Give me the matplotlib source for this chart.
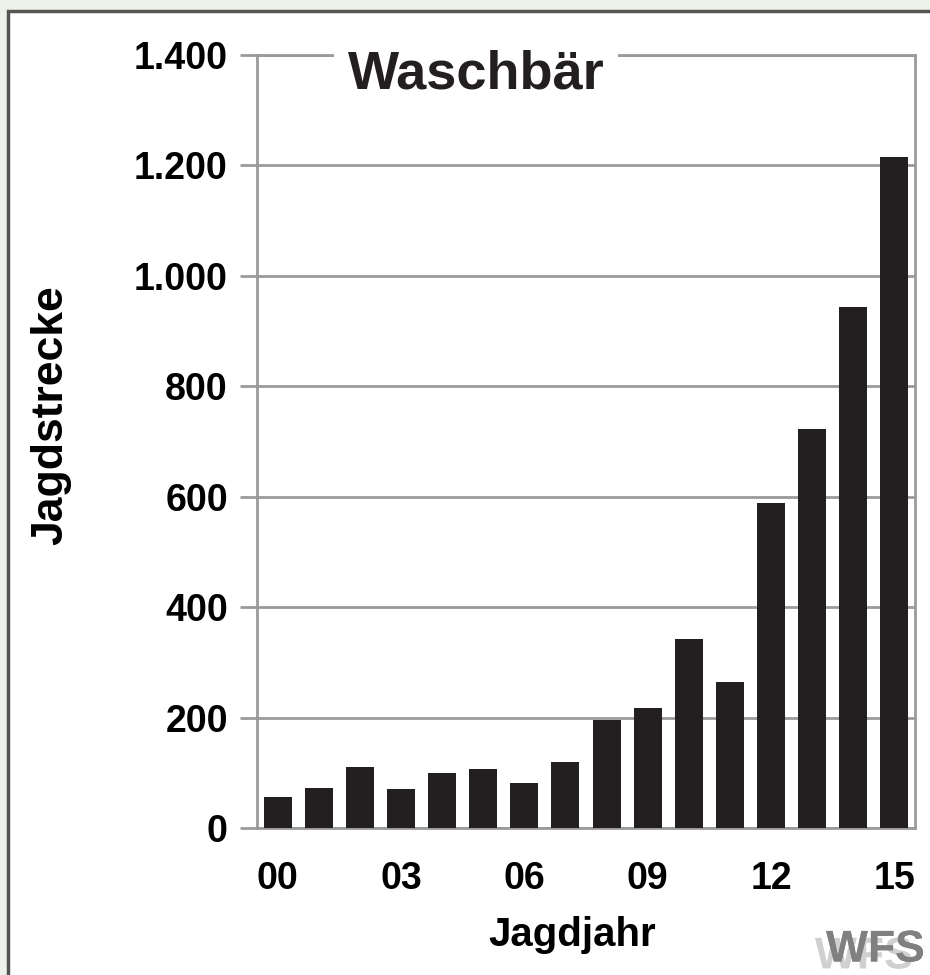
import matplotlib.pyplot as plt
from matplotlib.patches import Rectangle
import matplotlib.patheffects as pe

# Jagdstrecke Waschbär, Jagdjahre 2000-2015
years = ['00', '01', '02', '03', '04', '05', '06', '07',
         '08', '09', '10', '11', '12', '13', '14', '15']
bag = [56, 72, 111, 70, 99, 106, 81, 120,
       195, 217, 342, 265, 588, 722, 943, 1216]
yticks = [0, 200, 400, 600, 800, 1000, 1200, 1400]
ytick_labels = ['0', '200', '400', '600', '800', '1.000', '1.200', '1.400']

plt.rcParams['font.family'] = ['Liberation Sans', 'DejaVu Sans']
plt.rcParams['font.weight'] = 'bold'

fig = plt.figure(figsize=(9.3, 9.75), dpi=100, facecolor='#eef3e9')

# white panel with dark frame
W, H = 930, 975
panel = Rectangle((8 / W, -0.05), 1.1, 1 - 11 / H + 0.05, transform=fig.transFigure,
                  facecolor='white', edgecolor='#555555', linewidth=2.5, zorder=-5)
fig.patches.append(panel)

ax = fig.add_axes([257 / W, 1 - 828 / H, (915 - 257) / W, (828 - 55) / H])
ax.set_zorder(2)
ax.set_facecolor('white')

grid_c = '#9a9a9a'
x = list(range(len(years)))
ax.bar(x, bag, width=0.68, color='#231f20', zorder=3)

ax.set_xlim(-0.5, 15.5)
ax.set_ylim(0, 1400)
ax.set_yticks(yticks)
ax.set_yticklabels(ytick_labels)
ax.set_xticks(x[::3])
ax.set_xticklabels(years[::3])

ax.yaxis.grid(True, color=grid_c, linewidth=2, zorder=1)
for s in ['left', 'top', 'right', 'bottom']:
    ax.spines[s].set_color(grid_c)
    ax.spines[s].set_linewidth(2)
ax.tick_params(axis='y', length=12, width=2, color=grid_c, labelsize=27, pad=9)
ax.tick_params(axis='x', length=0, labelsize=27, pad=24)

ax.set_ylabel('Jagdstrecke', fontsize=32, fontweight='bold')
ax.yaxis.set_label_coords(-0.314, 0.534)
ax.set_xlabel('Jagdjahr', fontsize=29, fontweight='bold')
ax.xaxis.set_label_coords(0.479, -0.138)
ax.xaxis.label.set_va('center')
ax.yaxis.label.set_va('center')

ax.text(0.333, 0.975, 'Waschbär', transform=ax.transAxes, fontsize=39,
        fontweight='bold', ha='center', va='center', color='#231f20', zorder=5,
        bbox=dict(boxstyle='square,pad=0.25', facecolor='white', edgecolor='none'))

# WFS logo
fig.text(925 / W, 1 - 950 / H, 'WFS', fontsize=32, fontweight='bold',
         color='#808080', ha='right', va='center',
         path_effects=[pe.withSimplePatchShadow(offset=(-8, -5), shadow_rgbFace='#d0d0d0', alpha=1),
                       pe.Normal()])

fig.savefig('out.png', dpi=100, facecolor=fig.get_facecolor())
